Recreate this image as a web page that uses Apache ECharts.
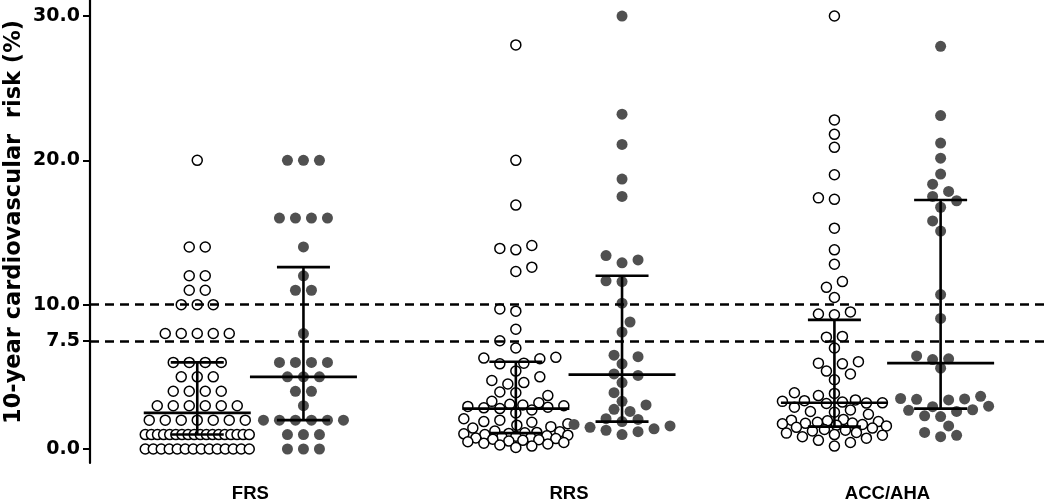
<!DOCTYPE html>
<html><head><meta charset="utf-8">
<script src="https://cdn.jsdelivr.net/npm/echarts@6/dist/echarts.min.js"></script>
<style>html,body{margin:0;padding:0;background:#fff}#c{width:1050px;height:503px}</style>
</head><body><div id="c"></div>
<script>
// ---------------- data ----------------
const categories = ['FRS', 'RRS', 'ACC/AHA'];
const yTickValues = [0, 7.5, 10, 20, 30];
const thresholds = [7.5, 10];
const yAxisTitle = '10-year cardiovascular  risk (%)';

const frsOpen = [20, 14, 14, 12, 12, 11, 11, 10, 10, 10, 8, 8, 8, 8, 8, 6, 6, 6, 6, 5, 5, 5,
  4, 4, 4, 4, 3, 3, 3, 3, 3, 3, 2, 2, 2, 2, 2, 2, 2,
  1, 1, 1, 1, 1, 1, 1, 1, 1, 1, 1, 1, 1, 1, 1, 1, 1, 1,
  0, 0, 0, 0, 0, 0, 0, 0, 0, 0, 0, 0, 0, 0];
const frsFilled = [20, 20, 20, 16, 16, 16, 16, 14, 12, 11, 11, 8, 6, 6, 6, 6, 5, 5, 5, 4, 4, 3,
  2, 2, 2, 2, 2, 2, 1, 1, 1, 0, 0, 0];
const rrsOpen = [28.0, 20.0, 16.9, 14.1, 13.9, 13.8, 12.6, 12.3, 9.7, 9.55, 8.3, 7.5, 7.0,
  6.35, 6.3, 6.25, 5.95, 5.9, 5.4, 5.0, 4.75, 4.6, 4.5, 3.95, 3.9, 3.7,
  3.3, 3.2, 3.1, 3.05, 3.0, 2.95, 2.9, 2.85, 2.8, 2.7, 2.5,
  2.1, 2.0, 1.9, 1.85, 1.75, 1.65, 1.55, 1.45,
  1.25, 1.2, 1.15, 1.12, 1.08, 1.05, 1.0, 0.96, 0.92, 0.88, 0.84, 0.8, 0.76, 0.72, 0.68,
  0.64, 0.6, 0.55, 0.5, 0.45, 0.4, 0.35, 0.28, 0.2, 0.1];
const rrsFilled = [30.0, 23.2, 21.1, 18.7, 17.5, 13.4, 13.1, 12.9, 11.65, 11.6, 10.1, 8.8, 8.1,
  6.5, 6.4, 5.9, 5.2, 5.1, 4.6, 3.9, 3.3, 3.05, 2.75, 2.6, 2.1, 2.05, 1.9, 1.7, 1.6, 1.5,
  1.4, 1.3, 1.2, 1.0];
const accOpen = [30.0, 22.8, 21.8, 20.9, 19.0, 17.4, 17.3, 15.3, 13.8, 12.8, 11.6, 11.2, 10.5,
  9.5, 9.35, 9.3, 7.8, 7.75, 7.0, 6.05, 5.95, 5.9, 5.4, 5.2, 4.8, 3.9, 3.85,
  3.7, 3.4, 3.35, 3.3, 3.25, 3.2, 3.18, 3.15,
  2.9, 2.7, 2.6, 2.55, 2.4,
  2.05, 2.0, 1.95, 1.9, 1.85, 1.8, 1.78, 1.75, 1.7, 1.65, 1.6,
  1.5, 1.45, 1.35, 1.3, 1.25, 1.15, 1.1, 1.0, 0.95, 0.85, 0.75, 0.6, 0.45, 0.2];
const accFilled = [27.9, 23.1, 21.2, 20.15, 19.05, 18.35, 17.85, 17.5, 17.2, 16.75, 15.8, 15.1,
  10.7, 9.05, 6.45, 6.25, 6.2, 5.6, 3.65, 3.5, 3.47, 3.44, 3.4, 2.97, 2.93, 2.72, 2.68, 2.6,
  2.3, 2.25, 1.6, 1.15, 0.95, 0.85];

const groupMedian = [2.5, 5.0, 2.8, 5.15, 3.2, 5.95];
const groupQ1 = [1.0, 2.0, 1.1, 1.9, 1.55, 2.8];
const groupQ3 = [6.0, 12.6, 6.05, 12.0, 8.95, 17.25];

// ---------------- layout ----------------
const groups = [frsOpen, frsFilled, rrsOpen, rrsFilled, accOpen, accFilled];
const groupFilled = [false, true, false, true, false, true];
const groupPos = [0, 1, 3, 4, 6, 7];
const catPos = [0.5, 3.5, 6.5];
const GRID = { left: 90, right: 0, top: 0, bottom: 40 };
const X_MIN = -1.01, X_MAX = 8.03, Y_MIN = -0.97, Y_MAX = 31.11;
const W = 1050, H = 503;
const pxX = (W - GRID.left - GRID.right) / (X_MAX - X_MIN);
const pxY = (H - GRID.top - GRID.bottom) / (Y_MAX - Y_MIN);
const DIAM = 11, LATTICE = 8, ROW_STEP = 16, W_MAX = 52;

function swarm(values) {
  const out = new Array(values.length);
  const idx = values.map((v, i) => i).sort((a, b) => values[a] - values[b]);
  if (values.every(v => Number.isInteger(v))) {
    const rows = {};
    idx.forEach(i => { (rows[values[i]] = rows[values[i]] || []).push(i); });
    Object.values(rows).forEach(r => {
      const n = r.length;
      const step = n > 1 ? Math.min(ROW_STEP, 2 * W_MAX / (n - 1)) : 0;
      r.forEach((i, k) => { out[i] = (k - (n - 1) / 2) * step; });
    });
    return out;
  }
  const placed = [];
  let balance = 0;
  idx.forEach(i => {
    const py = values[i] * pxY;
    const near = placed.filter(p => Math.abs(p.py - py) < DIAM);
    const free = c => near.every(p => Math.hypot(p.dx - c, p.py - py) >= DIAM);
    let best = null;
    for (let k = 0; k * LATTICE <= W_MAX && best === null; k++) {
      const s = balance > 0 ? -1 : 1;
      const cands = k === 0 ? [0] : [s * k * LATTICE, -s * k * LATTICE];
      for (const c of cands) { if (free(c)) { best = c; break; } }
    }
    if (best === null) {
      let bestScore = -1;
      for (let c = -W_MAX; c <= W_MAX; c += 1) {
        const d = Math.min(...near.map(p => Math.hypot(p.dx - c, p.py - py)));
        if (d > bestScore + 1e-9 || (Math.abs(d - bestScore) < 1e-9 && Math.abs(c) < Math.abs(best))) {
          bestScore = d; best = c;
        }
      }
    }
    out[i] = best;
    balance += Math.sign(best);
    placed.push({ dx: best, py });
  });
  return out;
}

const FONT = '"Liberation Sans", Arial, sans-serif';
const FONT_WIDE = '"DejaVu Sans", Verdana, sans-serif';
const scatterSeries = groups.map((vals, g) => {
  const offs = swarm(vals);
  return {
    type: 'scatter',
    symbol: 'circle',
    symbolSize: groupFilled[g] ? 11 : 10,
    itemStyle: groupFilled[g]
      ? { color: '#505050', opacity: 1 }
      : { color: '#ffffff', borderColor: '#000000', borderWidth: 1.5, opacity: 1 },
    data: vals.map((v, i) => [groupPos[g] + offs[i] / pxX, v]),
    z: 2
  };
});

const CAP_HALF = 26.5, MED_HALF = 53.5;
const barStyle = { stroke: '#000', lineWidth: 2.6 };
const errorSeries = {
  type: 'custom',
  renderItem: (params, api) => {
    const x = api.value(0);
    const top = api.coord([x, api.value(3)]);
    const bot = api.coord([x, api.value(1)]);
    const med = api.coord([x, api.value(2)]);
    return {
      type: 'group',
      children: [
        { type: 'line', shape: { x1: top[0], y1: top[1], x2: bot[0], y2: bot[1] }, style: barStyle },
        { type: 'line', shape: { x1: top[0] - CAP_HALF, y1: top[1], x2: top[0] + CAP_HALF, y2: top[1] }, style: barStyle },
        { type: 'line', shape: { x1: bot[0] - CAP_HALF, y1: bot[1], x2: bot[0] + CAP_HALF, y2: bot[1] }, style: barStyle },
        { type: 'line', shape: { x1: med[0] - MED_HALF, y1: med[1], x2: med[0] + MED_HALF, y2: med[1] }, style: barStyle }
      ]
    };
  },
  data: groupPos.map((p, g) => [p, groupQ1[g], groupMedian[g], groupQ3[g]]),
  markLine: {
    silent: true, symbol: 'none', label: { show: false },
    lineStyle: { color: '#000', width: 2.6, type: [9, 6] },
    data: thresholds.map(t => ({ yAxis: t }))
  },
  z: 5
};

const chart = echarts.init(document.getElementById('c'), null, { renderer: 'canvas' });
chart.setOption({
  animation: false,
  backgroundColor: '#ffffff',
  grid: GRID,
  xAxis: {
    type: 'value', min: X_MIN, max: X_MAX,
    axisLine: { show: false }, axisTick: { show: false }, splitLine: { show: false },
    axisLabel: {
      customValues: catPos,
      formatter: v => categories[catPos.indexOf(v)] || '',
      color: '#000', fontFamily: FONT, fontWeight: 'bold', fontSize: 18.5, margin: 21
    }
  },
  yAxis: {
    type: 'value', min: Y_MIN, max: Y_MAX,
    axisLine: { show: true, onZero: false, lineStyle: { color: '#000', width: 2.2 } },
    axisTick: { show: true, customValues: yTickValues, length: 7, lineStyle: { color: '#000', width: 2 } },
    splitLine: { show: false },
    axisLabel: {
      customValues: yTickValues,
      formatter: v => v.toFixed(1),
      color: '#000', fontFamily: FONT_WIDE, fontWeight: 'bold', fontSize: 19, margin: 10
    }
  },
  graphic: [{
    type: 'text', x: 14, y: 222, rotation: Math.PI / 2,
    style: { text: yAxisTitle, fill: '#000', font: 'bold 22.5px ' + FONT_WIDE, align: 'center', verticalAlign: 'middle' }
  }],
  series: [...scatterSeries, errorSeries]
});
</script></body></html>
